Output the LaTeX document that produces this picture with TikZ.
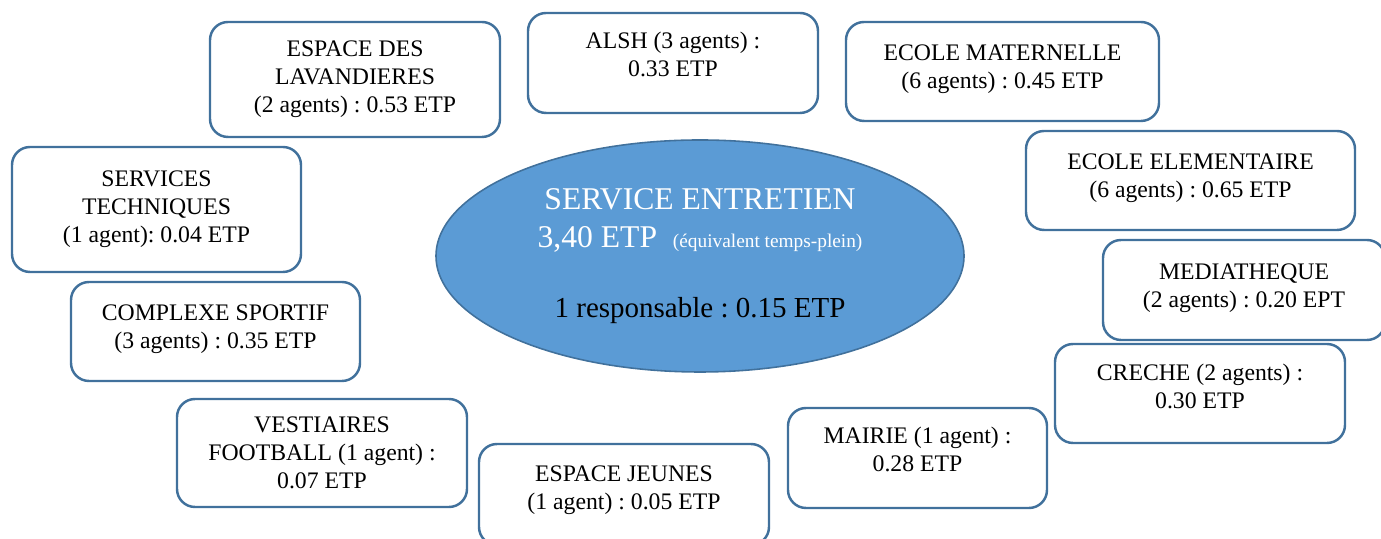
\documentclass[tikz,border=0pt]{standalone}
\usepackage{fontspec}
\setmainfont{Liberation Serif}
\usepackage{tikz}
\usetikzlibrary{shapes.geometric}
\definecolor{boxline}{RGB}{65,113,156}
\definecolor{ovalfill}{RGB}{91,155,213}
\frenchspacing

\begin{document}
\begin{tikzpicture}[
    site/.style={
        draw=boxline,
        line width=1.4pt,
        rounded corners=0.36cm,
        fill=white,
        align=center,
        inner sep=0pt,
        font=\fontsize{13.5}{15.9}\selectfont
    },
    lift/.style={text depth=#1},
    hub/.style={
        ellipse,
        draw=boxline,
        line width=0.9pt,
        fill=ovalfill,
        inner sep=0pt,
        minimum width=10.56cm,
        minimum height=4.64cm,
        align=center,
        font=\fontsize{18}{22.7}\selectfont
    }
]
\useasboundingbox (0,0) rectangle (27.62,10.78);

\node[hub] (service) at (14.0,5.66) {%
    \textcolor{white}{SERVICE ENTRETIEN}\\[-1pt]
    \textcolor{white}{3,40 ETP\ \ {\fontsize{11}{12}\selectfont (équivalent temps-plein)}}\\[17pt]
    \fontsize{16.5}{19}\selectfont 1 responsable : 0.15 ETP};

\node[site, minimum width=5.8cm, minimum height=2.3cm] (lavandieres) at (7.10,9.19)
    {ESPACE DES\\LAVANDIERES\\(2 agents) : 0.53 ETP};
\node[site, lift=10pt, minimum width=5.8cm, minimum height=2.0cm] (alsh) at (13.46,9.52)
    {ALSH (3 agents) :\\0.33 ETP};
\node[site, lift=6pt, minimum width=6.26cm, minimum height=1.98cm] (maternelle) at (20.05,9.35)
    {ECOLE MATERNELLE\\(6 agents) : 0.45 ETP};
\node[site, lift=5pt, minimum width=6.58cm, minimum height=1.98cm] (elementaire) at (23.81,7.17)
    {ECOLE ELEMENTAIRE\\(6 agents) : 0.65 ETP};
\node[site, lift=5pt, minimum width=5.64cm, minimum height=2.0cm] (mediatheque) at (24.88,4.98)
    {MEDIATHEQUE\\(2 agents) : 0.20 EPT};
\node[site, lift=8pt, minimum width=5.8cm, minimum height=1.98cm] (creche) at (24.0,2.91)
    {CRECHE (2 agents) :\\0.30 ETP};
\node[site, lift=10pt, minimum width=5.18cm, minimum height=2.0cm] (mairie) at (18.35,1.62)
    {MAIRIE (1 agent) :\\0.28 ETP};
\node[site, lift=8pt, minimum width=5.8cm, minimum height=2.02cm] (jeunes) at (12.48,0.89)
    {ESPACE JEUNES\\(1 agent) : 0.05 ETP};
\node[site, minimum width=5.8cm, minimum height=2.16cm] (vestiaires) at (6.44,1.72)
    {VESTIAIRES\\FOOTBALL (1 agent) :\\0.07 ETP};
\node[site, lift=5pt, minimum width=5.78cm, minimum height=1.98cm] (sportif) at (4.31,4.15)
    {COMPLEXE SPORTIF\\(3 agents) : 0.35 ETP};
\node[site, minimum width=5.78cm, minimum height=2.5cm] (techniques) at (3.13,6.59)
    {SERVICES\\TECHNIQUES\\(1 agent): 0.04 ETP};
\end{tikzpicture}
\end{document}
